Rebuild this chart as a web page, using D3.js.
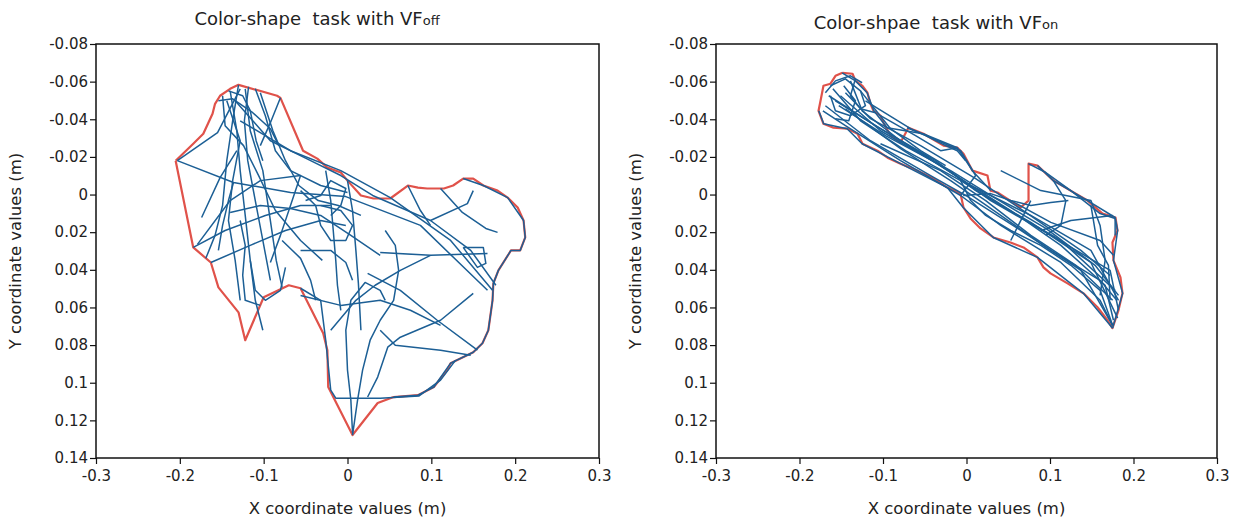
<!DOCTYPE html>
<html>
<head>
<meta charset="utf-8">
<title>Color-shape task trajectories</title>
<script src="https://cdnjs.cloudflare.com/ajax/libs/d3/7.8.5/d3.min.js"></script>
<style>
  body { margin: 0; background: #fff; }
  svg text { font-family: "DejaVu Sans", Verdana, sans-serif; fill: #222; }
</style>
</head>
<body>
<svg id="chart" width="1235" height="520"></svg>
<script>
// axis ticks (same for both panels)
var xTicks = [-0.3, -0.2, -0.1, 0, 0.1, 0.2, 0.3];
var yTicks = [-0.08, -0.06, -0.04, -0.02, 0, 0.02, 0.04, 0.06, 0.08, 0.1, 0.12, 0.14];

// titles
var titles = ["Color-shape  task with VF", "Color-shpae  task with VF"];
var titleSubs = ["off", "on"];

// --- VF off : red outline (hull) and blue hand trajectories, [x, y] in metres
var offHull = [[-0.205,-0.0180],[-0.184,-0.0270],[-0.172,-0.0323],[-0.161,-0.0429],[-0.158,-0.0482],[-0.152,-0.0525],
  [-0.140,-0.0562],[-0.130,-0.0583],[-0.084,-0.0525],[-0.080,-0.0514],[-0.053,-0.0233],[-0.036,-0.0191],[-0.024,-0.0143],
  [-0.008,-0.0117],[0,-0.0074],[0.016,0.0005],[0.031,0.0021],[0.051,0.0021],[0.072,-0.0048],[0.084,-0.0037],[0.095,-0.0032],
  [0.115,-0.0032],[0.126,-0.0048],[0.138,-0.0085],[0.150,-0.0085],[0.162,-0.0048],[0.179,-0.0021],[0.191,0.0016],
  [0.203,0.0069],[0.210,0.0138],[0.212,0.0228],[0.206,0.0297],[0.195,0.0297],[0.180,0.0403],[0.174,0.0472],[0.173,0.0562],
  [0.168,0.0721],[0.161,0.0790],[0.150,0.0838],[0.123,0.0896],[0.119,0.0933],[0.103,0.1023],[0.084,0.1066],[0.055,0.1076],
  [0.036,0.1108],[0.006,0.1278],[-0.023,0.1023],[-0.024,0.0827],[-0.029,0.0737],[-0.056,0.0498],[-0.070,0.0482],
  [-0.100,0.0546],[-0.122,0.0774],[-0.130,0.0626],[-0.154,0.0493],[-0.163,0.0361],[-0.184,0.0281]];

var offPaths = [
  [[-0.203,-0.018],[-0.136,-0.0064],[-0.068,-0.0011],[-0.002,0.0011],[0.087,0.0164],[0.167,0.0509]],
  [[-0.203,-0.018],[-0.155,-0.0329],[-0.128,-0.0562]],
  [[-0.130,-0.0583],[-0.137,-0.0392],[-0.144,-0.018],[-0.149,0.0058],[-0.158,0.0217],[-0.169,0.0339]],
  [[-0.140,-0.0551],[-0.132,-0.0339],[-0.128,-0.0127],[-0.122,0.0111],[-0.116,0.035],[-0.110,0.0562],[-0.101,0.0721]],
  [[-0.122,-0.0562],[-0.116,-0.0339],[-0.101,-0.0127],[-0.092,0.0138],[-0.085,0.035],[-0.078,0.0493]],
  [[-0.149,-0.0525],[-0.146,-0.0366],[-0.124,-0.026],[-0.106,-0.0101],[-0.086,0.0085],[-0.056,0.0244],[-0.030,0.035]],
  [[-0.110,-0.0562],[-0.098,-0.0419],[-0.086,-0.0233],[-0.068,-0.0127],[-0.032,-0.0048],[0,-0.0011]],
  [[-0.080,-0.0514],[-0.092,-0.0382],[-0.104,-0.026]],
  [[-0.134,-0.0498],[-0.092,-0.0286],[-0.044,-0.018],[-0.008,-0.0101],[0.030,0.0005],[0.099,0.0138],[0.147,0.0297],[0.177,0.0482]],
  [[-0.128,-0.0392],[-0.068,-0.0233],[-0.008,-0.0127],[0.051,0.0016],[0.123,0.0244],[0.173,0.0509]],
  [[-0.174,0.0122],[-0.152,-0.009],[-0.132,-0.0233]],
  [[-0.179,0.0265],[-0.140,0.0032],[-0.104,-0.0074],[-0.056,-0.0101]],
  [[-0.184,0.0281],[-0.146,0.0191],[-0.098,0.0111],[-0.056,0.0058],[-0.020,0.0058]],
  [[-0.163,0.0361],[-0.116,0.027],[-0.074,0.0191],[-0.032,0.0138],[-0.002,0.0164]],
  [[-0.056,-0.0021],[-0.038,0.0058],[-0.032,0.0164],[-0.020,0.0244],[-0.002,0.0244],[0.006,0.0164],[-0.008,0.0085],[-0.032,0.0058]],
  [[-0.026,-0.0127],[-0.020,0.0032],[-0.017,0.0191],[-0.014,0.035],[-0.012,0.0482],[-0.008,0.0615]],
  [[0,-0.0074],[0.006,0.0085],[0.010,0.0297],[0.013,0.0472],[0.016,0.0721]],
  [[-0.056,0.0498],[-0.032,0.0562],[-0.026,0.0774],[-0.020,0.1039],[-0.014,0.1082],[0.039,0.1082],[0.085,0.1071],[0.111,0.0986],[0.129,0.088]],
  [[0.006,0.1278],[0.012,0.1092],[0.018,0.0933],[0.027,0.0774],[0.039,0.0668],[0.055,0.0562],[0.061,0.0403],[0.057,0.027],[0.045,0.0191]],
  [[0.006,0.1267],[0.004,0.1092],[0,0.0933],[-0.002,0.0721],[0.004,0.0562],[0.021,0.0467],[0.039,0.0509],[0.045,0.0562]],
  [[0.024,0.0419],[0.063,0.0509],[0.107,0.0668],[0.155,0.0827]],
  [[0.150,0.0525],[0.111,0.0668],[0.063,0.0758],[0.048,0.0811],[0.036,0.097],[0.024,0.1076]],
  [[0.138,-0.0085],[0.162,-0.0048],[0.191,0.0016],[0.210,0.0138],[0.212,0.0228],[0.206,0.0297],[0.195,0.0297],[0.180,0.0403],
   [0.174,0.0472],[0.173,0.0562],[0.168,0.0721],[0.161,0.079],[0.150,0.0838],[0.123,0.0896],[0.103,0.1023],[0.084,0.1066],[0.055,0.1076]],
  [[0.072,-0.0048],[0.087,0.0085],[0.099,0.0164]],
  [[0.099,0.0138],[0.143,0.0048],[0.150,-0.0021]],
  [[0.111,-0.0032],[0.137,0.0095],[0.165,0.018],[0.179,0.0201]],
  [[0.138,0.0281],[0.162,0.0281],[0.165,0.0366],[0.155,0.0387],[0.138,0.0281]],
  [[0.039,0.0308],[0.099,0.0323],[0.167,0.0313]],
  [[-0.056,0.0536],[-0.008,0.0589],[0.039,0.0562],[0.075,0.0615],[0.111,0.0695]],
  [[-0.116,0.035],[-0.110,0.0509],[-0.098,0.0562],[-0.080,0.0509],[-0.074,0.0387]],
  [[-0.128,0.0138],[-0.122,0.027],[-0.125,0.0429],[-0.122,0.0562],[-0.104,0.0589]],
  [[-0.056,0.0297],[-0.020,0.0297],[-0.002,0.0361],[0.006,0.0456]],
  [[0.039,0.0721],[0.057,0.0801],[0.111,0.0827],[0.147,0.0854]],
  [[-0.020,0.0721],[0.010,0.0562],[0.033,0.0482],[0.063,0.0403],[0.099,0.0323]],
  [[-0.140,0.0095],[-0.104,0.0058],[-0.068,0.0074],[-0.032,0.0111],[0.004,0.0217],[0.039,0.0323]],
  [[-0.078,0.0244],[-0.056,0.0339],[-0.044,0.0456],[-0.038,0.0562]],
  [[-0.142,-0.0551],[-0.125,-0.0525],[-0.116,-0.0446],[-0.109,-0.0286],[-0.101,-0.018]],
  [[-0.154,-0.0498],[-0.137,-0.0509],[-0.113,-0.0435],[-0.092,-0.035],[-0.082,-0.026]],
  [[-0.136,-0.0064],[-0.142,0.0032],[-0.149,0.0164],[-0.154,0.0297]],
  [[-0.056,-0.0101],[-0.068,0.0058],[-0.080,0.0217],[-0.092,0.0361]],
  [[-0.118,-0.0573],[-0.123,-0.0392],[-0.119,-0.018],[-0.110,0.0032],[-0.101,0.0244],[-0.092,0.0456]],
  [[-0.144,-0.0498],[-0.128,-0.0286],[-0.137,-0.0074],[-0.142,0.0138],[-0.134,0.035],[-0.128,0.0562]],
  [[-0.104,-0.0541],[-0.089,-0.0339],[-0.074,-0.018],[-0.058,-0.0048],[-0.035,0.0032],[-0.011,0.0058],[0.016,0.0111]],
  [[-0.050,0.0032],[-0.032,0.0005],[-0.020,-0.0074],[-0.002,-0.0032],[-0.008,0.0058],[-0.020,0.0111]]
];

// --- VF on
var onHull = [[-0.1485,-0.0647],[-0.1365,-0.0642],[-0.1329,-0.0604],[-0.1246,-0.0578],[-0.1186,-0.0541],[-0.1150,-0.0482],
  [-0.1114,-0.0445],[-0.1030,-0.0419],[-0.0994,-0.0382],[-0.0910,-0.0313],[-0.0790,-0.0276],[-0.0695,-0.0355],[-0.0515,-0.0323],
  [-0.0275,-0.0260],[-0.0108,-0.0249],[-0.0036,-0.0217],[0.0072,-0.0127],[0.0251,-0.0101],[0.0287,-0.0021],[0.0371,-0.0011],
  [0.0647,0.0069],[0.0743,0.0032],[0.0743,-0.0164],[0.0850,-0.0154],[0.1042,-0.0074],[0.1246,-0.0021],[0.1449,0.0032],
  [0.1629,0.0101],[0.1784,0.0122],[0.1808,0.0191],[0.1748,0.0255],[0.1760,0.0350],[0.1844,0.0440],[0.1868,0.0525],
  [0.1820,0.0615],[0.1748,0.0710],[0.1689,0.0668],[0.1569,0.0599],[0.1401,0.0525],[0.1210,0.0472],[0.1006,0.0419],
  [0.0922,0.0387],[0.0850,0.0334],[0.0683,0.0281],[0.0527,0.0255],[0.0323,0.0228],[0.0168,0.0180],[0.0048,0.0127],
  [-0.0036,0.0069],[-0.0072,-0.0005],[-0.0228,-0.0037],[-0.0395,-0.0085],[-0.0587,-0.0127],[-0.0790,-0.0164],
  [-0.0946,-0.0196],[-0.1066,-0.0233],[-0.1246,-0.0270],[-0.1305,-0.0323],[-0.1425,-0.0350],[-0.1593,-0.0355],
  [-0.1713,-0.0376],[-0.1772,-0.0445],[-0.1748,-0.0498],[-0.1713,-0.0578],[-0.1629,-0.0589],[-0.1569,-0.0631]];

var onPaths = [
  [[-0.169,-0.0472],[-0.115,-0.0286],[-0.043,-0.0101],[-0.001,0.0005],[0.065,0.0191],[0.137,0.0403],[0.175,0.0695]],
  [[-0.151,-0.0525],[-0.103,-0.0339],[-0.031,-0.0154],[0.005,-0.0048],[0.077,0.0111],[0.149,0.0297],[0.182,0.0562]],
  [[-0.160,-0.0562],[-0.127,-0.0392],[-0.073,-0.0233],[-0.007,-0.0074],[0.041,0.0058],[0.113,0.0244],[0.178,0.0509]],
  [[-0.139,-0.0604],[-0.125,-0.0445],[-0.079,-0.0286],[-0.013,-0.0101],[0.029,0.0032],[0.101,0.0217],[0.172,0.0403],[0.182,0.0615]],
  [[-0.172,-0.0445],[-0.145,-0.0366],[-0.079,-0.018],[-0.007,0.0005],[0.041,0.0164],[0.113,0.0361],[0.160,0.0562],[0.175,0.0695]],
  [[-0.163,-0.0578],[-0.145,-0.0615],[-0.127,-0.0551],[-0.121,-0.0472],[-0.139,-0.0419],[-0.157,-0.0445],[-0.163,-0.0525]],
  [[-0.147,-0.0578],[-0.133,-0.0498],[-0.141,-0.0392],[-0.157,-0.0403]],
  [[-0.121,-0.0498],[-0.067,-0.0350],[-0.007,-0.0233],[0.011,-0.0101],[-0.007,0.0005]],
  [[0.074,-0.0164],[0.095,-0.0117],[0.125,-0.0021],[0.160,0.0101],[0.178,0.0127],[0.178,0.0217]],
  [[-0.004,0.0005],[0.029,-0.0005],[0.053,0.0032],[0.077,0.0058],[0.101,0.0042],[0.122,0.0032]],
  [[0.104,-0.0074],[0.119,0.0032],[0.113,0.0164],[0.095,0.0217]],
  [[0.041,-0.0127],[0.089,-0.0021],[0.149,0.0032],[0.160,0.0164],[0.166,0.035],[0.160,0.0536]],
  [[0.149,0.0058],[0.157,0.027],[0.170,0.0376],[0.172,0.0562]],
  [[0.089,0.0191],[0.125,0.0138],[0.175,0.0111]],
  [[-0.103,-0.0419],[-0.061,-0.0313],[-0.031,-0.0233],[-0.011,-0.0249]],
  [[-0.007,-0.0074],[0.005,0.0032],[0.023,0.0111],[0.053,0.0191],[0.089,0.027],[0.125,0.0376],[0.160,0.0509],[0.175,0.0695]],
  [[-0.103,-0.0270],[-0.031,-0.0127],[0.023,0.0032],[0.077,0.0217],[0.131,0.0376],[0.175,0.0562]],
  [[-0.127,-0.0551],[-0.091,-0.0350],[-0.055,-0.0233],[-0.025,-0.0154]],
  [[-0.071,-0.0355],[-0.049,-0.0313],[-0.025,-0.026],[-0.011,-0.0233],[-0.001,-0.018]],
  [[0.077,0.0032],[0.053,0.0244]],
  [[-0.177,-0.0445],[-0.171,-0.0376],[-0.143,-0.035],[-0.125,-0.027],[-0.079,-0.0164],[-0.023,-0.0037],[-0.004,0.0069],
   [0.032,0.0228],[0.085,0.0334],[0.140,0.0525],[0.175,0.071]],
  [[0.085,-0.0154],[0.104,-0.0074],[0.145,0.0032],[0.178,0.0122],[0.181,0.0191],[0.176,0.035],[0.187,0.0525],[0.175,0.071]],
  [[-0.149,-0.0647],[-0.133,-0.0604],[-0.119,-0.0541],[-0.111,-0.0445],[-0.095,-0.0355],[-0.052,-0.0323],[-0.011,-0.0249],
   [0.007,-0.0127],[0.029,-0.0021]],
  [[-0.157,-0.0498],[-0.103,-0.035],[-0.037,-0.018],[0.011,-0.0021],[0.077,0.0148],[0.149,0.0361],[0.181,0.0657]],
  [[-0.145,-0.0456],[-0.079,-0.0244],[-0.019,-0.0074],[0.041,0.0111],[0.101,0.0297],[0.160,0.0456],[0.180,0.0562]],
  [[0.053,0.0032],[0.101,0.0148],[0.160,0.0244],[0.176,0.0323]],
  [[-0.165,-0.0525],[-0.109,-0.0366],[-0.049,-0.0207],[0.002,-0.0058],[0.053,0.0085],[0.113,0.027],[0.166,0.0482],[0.176,0.0668]],
  [[-0.153,-0.0472],[-0.097,-0.0313],[-0.019,-0.0127],[0.029,0.0005],[0.095,0.018],[0.154,0.0376],[0.182,0.0536]],
  [[-0.145,-0.0541],[-0.115,-0.0403],[-0.055,-0.026],[0.011,-0.0085],[0.071,0.0095],[0.137,0.0297],[0.172,0.043]],
  [[-0.133,-0.0615],[-0.139,-0.0525],[-0.127,-0.0456],[-0.109,-0.0435]],
  [[-0.169,-0.0541],[-0.157,-0.0604],[-0.139,-0.0631],[-0.125,-0.0594]]
];

var svg = d3.select('#chart');

var plotTop = 44, plotBottom = 458;
var panels = [
  { left: 96, right: 599, titleX: 317, titleY: 25, hull: offHull, paths: offPaths },
  { left: 716, right: 1217, titleX: 936, titleY: 29, hull: onHull, paths: onPaths }
];

var fmt = function (d) { return String(d); };

panels.forEach(function (p, i) {
  var x = d3.scaleLinear().domain([-0.3, 0.3]).range([p.left, p.right]);
  var y = d3.scaleLinear().domain([-0.08, 0.14]).range([plotTop, plotBottom]);
  var line = d3.line().x(function (d) { return x(d[0]); }).y(function (d) { return y(d[1]); });

  var g = svg.append('g');

  // red outline of the reach area
  g.append('path')
    .attr('d', line(p.hull.concat([p.hull[0]])))
    .attr('fill', 'none')
    .attr('stroke', '#e0524a')
    .attr('stroke-width', 2.2)
    .attr('stroke-linejoin', 'round');

  // trajectories
  g.selectAll('.traj').data(p.paths).enter().append('path')
    .attr('class', 'traj')
    .attr('d', line)
    .attr('fill', 'none')
    .attr('stroke', '#1c5f95')
    .attr('stroke-width', 1.5)
    .attr('stroke-linejoin', 'round');

  // frame
  g.append('rect')
    .attr('x', p.left).attr('y', plotTop)
    .attr('width', p.right - p.left).attr('height', plotBottom - plotTop)
    .attr('fill', 'none').attr('stroke', '#111').attr('stroke-width', 1.5);

  var xAxis = g.append('g')
    .attr('transform', 'translate(0,' + plotBottom + ')')
    .call(d3.axisBottom(x).tickValues(xTicks).tickFormat(fmt).tickSize(6).tickSizeOuter(0));
  var yAxis = g.append('g')
    .attr('transform', 'translate(' + p.left + ',0)')
    .call(d3.axisLeft(y).tickValues(yTicks).tickFormat(fmt).tickSize(6).tickSizeOuter(0));
  [xAxis, yAxis].forEach(function (a) {
    a.select('.domain').remove();
    a.selectAll('line').attr('stroke', '#111').attr('stroke-width', 1.2);
    a.selectAll('text').attr('font-size', 15).attr('font-family', 'DejaVu Sans, sans-serif').attr('fill', '#222');
  });
  xAxis.selectAll('text').attr('dy', '0.95em');
  yAxis.selectAll('text').attr('x', -8);

  // title with small subscript-like suffix
  var t = g.append('text')
    .attr('x', p.titleX).attr('y', p.titleY)
    .attr('text-anchor', 'middle')
    .attr('font-size', 18)
    .style('white-space', 'pre');
  t.append('tspan').text(titles[i]);
  t.append('tspan').attr('font-size', 13).text(titleSubs[i]);

  g.append('text')
    .attr('x', (p.left + p.right) / 2)
    .attr('y', 514)
    .attr('text-anchor', 'middle')
    .attr('font-size', 16.5)
    .text('X coordinate values (m)');

  g.append('text')
    .attr('transform', 'translate(' + (p.left - 75) + ',' + (plotTop + plotBottom) / 2 + ') rotate(-90)')
    .attr('text-anchor', 'middle')
    .attr('font-size', 16.5)
    .text('Y coordinate values (m)');
});
</script>
</body>
</html>
